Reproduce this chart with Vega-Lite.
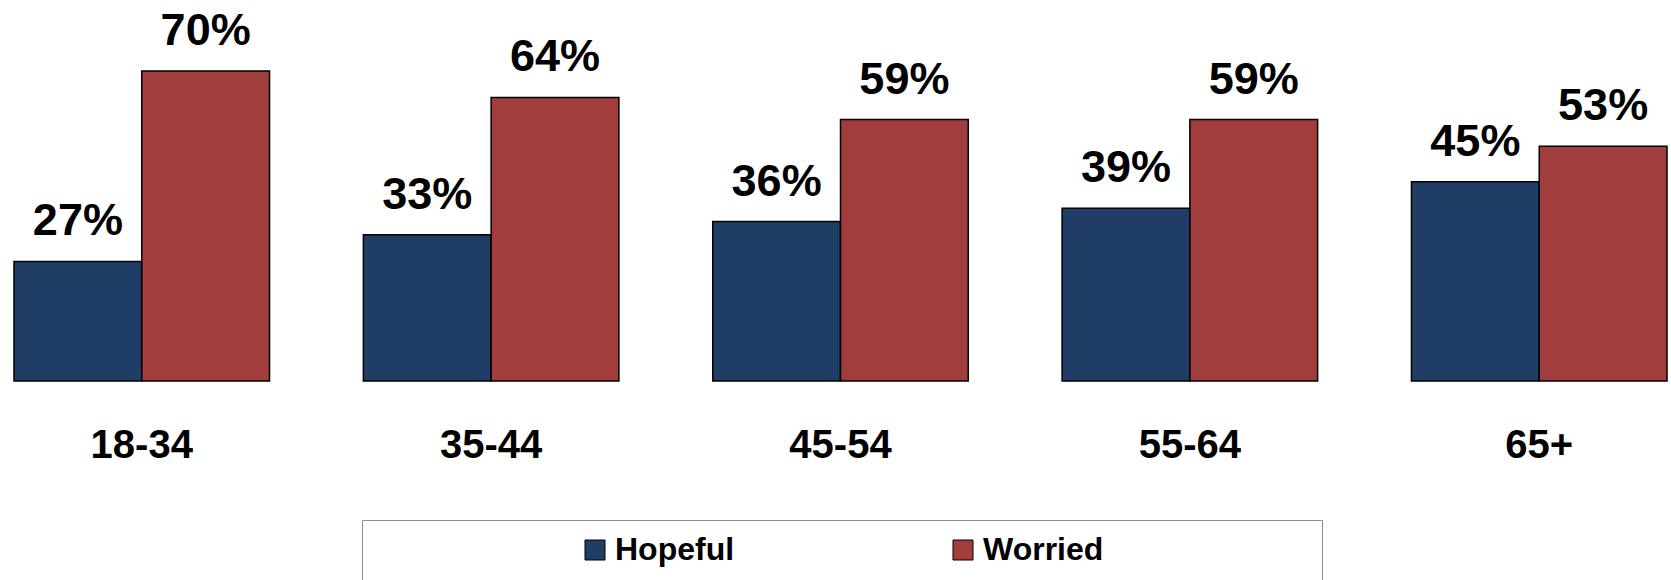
{
  "$schema": "https://vega.github.io/schema/vega-lite/v6.json",
  "width": 1653,
  "height": 381,
  "autosize": {"type": "none"},
  "padding": {"left": 14, "top": 0, "right": 4, "bottom": 199},
  "background": "#ffffff",
  "data": {
    "values": [
      {"age": "18-34", "series": "Hopeful", "value": 0.27},
      {"age": "18-34", "series": "Worried", "value": 0.70},
      {"age": "35-44", "series": "Hopeful", "value": 0.33},
      {"age": "35-44", "series": "Worried", "value": 0.64},
      {"age": "45-54", "series": "Hopeful", "value": 0.36},
      {"age": "45-54", "series": "Worried", "value": 0.59},
      {"age": "55-64", "series": "Hopeful", "value": 0.39},
      {"age": "55-64", "series": "Worried", "value": 0.59},
      {"age": "65+", "series": "Hopeful", "value": 0.45},
      {"age": "65+", "series": "Worried", "value": 0.53}
    ]
  },
  "encoding": {
    "x": {
      "field": "age",
      "type": "nominal",
      "sort": ["18-34", "35-44", "45-54", "55-64", "65+"],
      "scale": {"paddingInner": 0.2686, "paddingOuter": 0},
      "axis": {
        "title": null,
        "labelAngle": 0,
        "domain": false,
        "ticks": false,
        "labelFont": "Liberation Sans",
        "labelFontSize": 40,
        "labelFontWeight": "bold",
        "labelColor": "#000000",
        "labelPadding": 44,
        "labelBaseline": "top"
      }
    },
    "xOffset": {
      "field": "series",
      "sort": ["Hopeful", "Worried"],
      "scale": {"paddingInner": 0, "paddingOuter": 0}
    },
    "y": {
      "field": "value",
      "type": "quantitative",
      "scale": {"domain": [0, 0.86]},
      "axis": null
    }
  },
  "layer": [
    {
      "mark": {"type": "bar", "stroke": "#000000", "strokeWidth": 1.5},
      "encoding": {
        "color": {
          "field": "series",
          "type": "nominal",
          "scale": {"domain": ["Hopeful", "Worried"], "range": ["#1f3d65", "#a13d3d"]},
          "legend": {
            "orient": "none",
            "legendX": 348,
            "legendY": 520,
            "direction": "horizontal",
            "columns": 2,
            "title": null,
            "padding": 14,
            "strokeColor": "#8c8c8c",
            "symbolType": "square",
            "symbolSize": 400,
            "symbolStrokeColor": "#000000",
            "symbolStrokeWidth": 1,
            "symbolOffset": 203,
            "labelOffset": 4,
            "columnPadding": 9,
            "labelFont": "Liberation Sans",
            "labelFontSize": 32,
            "labelFontWeight": "bold",
            "labelColor": "#000000",
            "labelLimit": 400,
            "labelExpr": "datum.label == 'Worried' ? 'Worried\u00a0\u00a0\u00a0\u00a0\u00a0\u00a0\u00a0\u00a0\u00a0\u00a0\u00a0\u00a0\u00a0\u00a0\u00a0\u00a0\u00a0\u00a0\u00a0\u00a0\u00a0\u00a0\u00a0\u200b' : datum.label"
          }
        }
      }
    },
    {
      "mark": {
        "type": "text",
        "dy": -26,
        "baseline": "alphabetic",
        "font": "Liberation Sans",
        "fontSize": 45,
        "fontWeight": "bold",
        "color": "#000000"
      },
      "encoding": {
        "text": {"field": "value", "type": "quantitative", "format": ".0%"}
      }
    }
  ],
  "config": {"view": {"stroke": null}}
}
